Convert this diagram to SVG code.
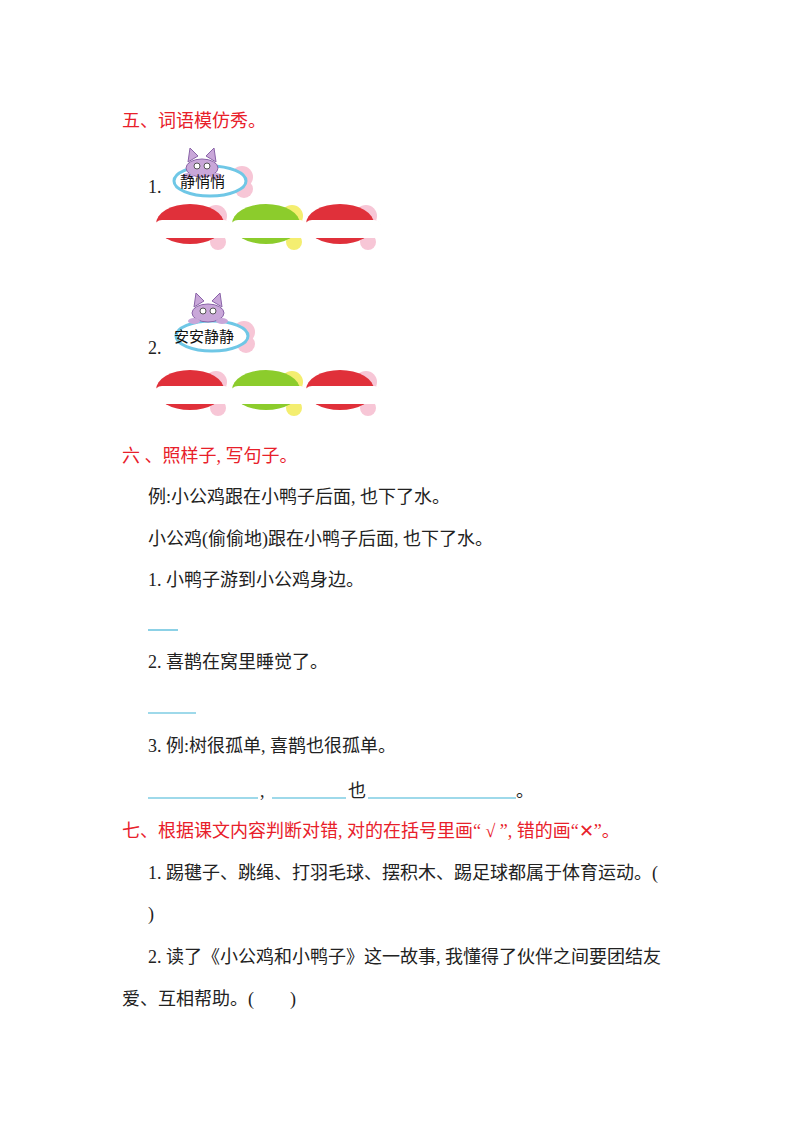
<svg xmlns="http://www.w3.org/2000/svg" width="800" height="1132" viewBox="0 0 800 1132">
<style>
text{font-family:"Liberation Serif","Noto Sans CJK SC",serif;font-size:18px;fill:#222;white-space:pre}
.h{fill:#e8202a}
.s{font-family:"Noto Sans CJK SC",sans-serif;font-size:15px;fill:#111}
.bl{stroke:#3fb3d6;stroke-width:1.2}
</style>
<defs>
<g id="cat">
<ellipse cx="0" cy="8" rx="16" ry="9" fill="#c9a7d9" stroke="#8a64a8"/>
<polygon points="-14,2 -12,-12 -4,-4" fill="#c9a7d9" stroke="#8a64a8"/>
<polygon points="14,2 12,-12 4,-4" fill="#c9a7d9" stroke="#8a64a8"/>
<circle cx="-5" cy="6" r="3" fill="#fff" stroke="#555"/><circle cx="5" cy="6" r="3" fill="#fff" stroke="#555"/>
<ellipse cx="-14" cy="16" rx="6" ry="3" fill="#c9a7d9"/><ellipse cx="14" cy="16" rx="6" ry="3" fill="#c9a7d9"/>
</g>
<g id="tag">
<circle cx="32" cy="-4" r="11" fill="#f7c6d6"/><circle cx="34" cy="8" r="9" fill="#f7c6d6"/>
<ellipse cx="0" cy="0" rx="36" ry="15" fill="#fff" stroke="#6fc7e6" stroke-width="3"/>
</g>
<g id="bub">
<circle cx="58" cy="-8" r="11" class="dot"/><circle cx="64" cy="4" r="9" class="dot"/><circle cx="60" cy="18" r="8" class="dot"/>
<ellipse cx="32" cy="0" rx="34" ry="20" fill="currentColor"/>
<rect x="-4" y="-4" width="78" height="18" rx="8" fill="#fff"/>
</g>
</defs>
<style>
#item1 use:not(.g) .dot, #item2 use:not(.g) .dot{fill:#f7c6d6}
.g .dot{fill:#f4ee70}
</style>
<text class="h" x="122" y="127">五、词语模仿秀。</text>
<g id="item1">
<text x="148" y="193">1.</text>
<use href="#tag" x="210" y="181"/><use href="#cat" x="202" y="160"/>
<text class="s" x="180" y="187">静悄悄</text>
<use href="#bub" x="158" y="224" color="#e0303a" fill="#f7c6d6"/>
<use class="g" href="#bub" x="234" y="224" color="#8ccc2c" fill="#f4ee70"/>
<use href="#bub" x="308" y="224" color="#e0303a" fill="#f7c6d6"/>
</g>
<g id="item2">
<text x="148" y="354">2.</text>
<use href="#tag" x="212" y="336"/><use href="#cat" x="208" y="305"/>
<text class="s" x="174" y="342">安安静静</text>
<use href="#bub" x="158" y="390" color="#e0303a" fill="#f7c6d6"/>
<use class="g" href="#bub" x="234" y="390" color="#8ccc2c" fill="#f4ee70"/>
<use href="#bub" x="308" y="390" color="#e0303a" fill="#f7c6d6"/>
</g>
<text class="h" x="122" y="462">六 、照样子, 写句子。</text>
<text x="148" y="503">例:小公鸡跟在小鸭子后面, 也下了水。</text>
<text x="148" y="545">小公鸡(偷偷地)跟在小鸭子后面, 也下了水。</text>
<text x="148" y="586">1. 小鸭子游到小公鸡身边。</text>
<line class="bl" x1="148" y1="630" x2="178" y2="630"/>
<text x="148" y="668">2. 喜鹊在窝里睡觉了。</text>
<line class="bl" x1="148" y1="713" x2="196" y2="713"/>
<text x="148" y="752">3. 例:树很孤单, 喜鹊也很孤单。</text>
<line class="bl" x1="148" y1="798" x2="258" y2="798"/>
<text x="260" y="797">,</text>
<line class="bl" x1="272" y1="798" x2="346" y2="798"/>
<text x="348" y="797">也</text>
<line class="bl" x1="368" y1="798" x2="516" y2="798"/>
<text x="516" y="797">。</text>
<text class="h" x="122" y="837">七、根据课文内容判断对错, 对的在括号里画“ √ ”, 错的画“✕”。</text>
<text x="148" y="879">1. 踢毽子、跳绳、打羽毛球、摆积木、踢足球都属于体育运动。(</text>
<text x="148" y="920">)</text>
<text x="148" y="963">2. 读了《小公鸡和小鸭子》这一故事, 我懂得了伙伴之间要团结友</text>
<text x="122" y="1005">爱、互相帮助。(        )</text>
</svg>
